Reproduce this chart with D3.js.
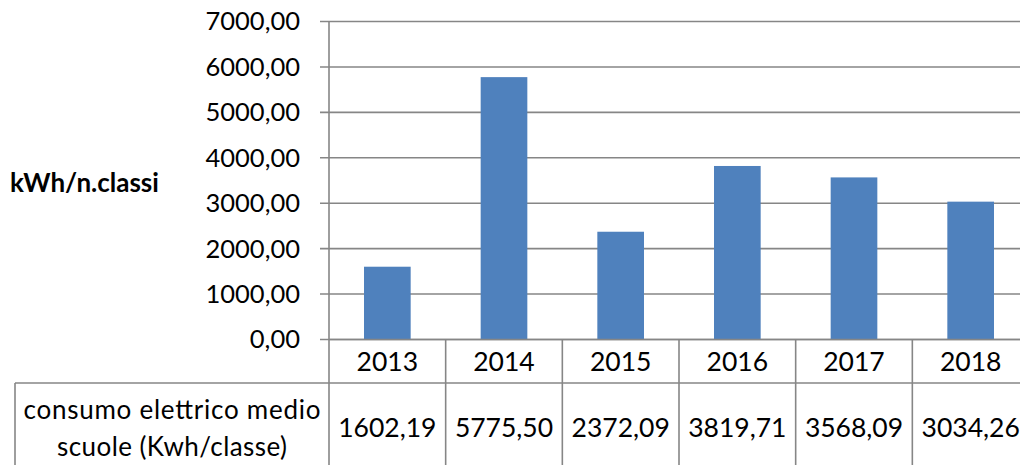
<!DOCTYPE html>
<html><head><meta charset="utf-8">
<script src="https://cdn.jsdelivr.net/npm/d3@7"></script>
<style>html,body{margin:0;padding:0;background:#fff;}svg{display:block;}</style>
</head><body>
<script>
const years = ["2013","2014","2015","2016","2017","2018"];
const values = [1602.19, 5775.50, 2372.09, 3819.71, 3568.09, 3034.26];
const yTicks = [0,1000,2000,3000,4000,5000,6000,7000];
const seriesLabel = ["consumo elettrico medio","scuole (Kwh/classe)"];
const yTitle = "kWh/n.classi";

const W = 1020, H = 465;
const FONT = "Lato, 'Open Sans', sans-serif";
const GRID = "#868686";
const svg = d3.select("body").append("svg").attr("width", W).attr("height", H);

const x0 = 329, x1 = 1029, yTop = 21.5, yBot = 339.5, row1 = 383, tableLeft = 15;
const x = d3.scaleBand().domain(years).range([x0, x1]).padding(0);
const y = d3.scaleLinear().domain([0, 7000]).range([yBot, yTop]);
const fmt = v => d3.format(".2f")(v).replace(".", ",");

// gridlines
svg.append("g").selectAll("line").data(yTicks).join("line")
  .attr("x1", x0 - 9).attr("x2", W).attr("y1", d => y(d)).attr("y2", d => y(d))
  .attr("stroke", GRID).attr("stroke-width", 1.6);

// bars
const bw = x.bandwidth() * 0.4;
svg.append("g").selectAll("rect").data(years).join("rect")
  .attr("x", (d) => x(d) + (x.bandwidth() - bw) / 2)
  .attr("width", bw)
  .attr("y", (d, i) => y(values[i]))
  .attr("height", (d, i) => y(0) - y(values[i]))
  .attr("fill", "#4F81BD");

// axis line & table
svg.append("line").attr("x1", x0).attr("x2", x0).attr("y1", yTop).attr("y2", H)
  .attr("stroke", GRID).attr("stroke-width", 1.6);
svg.append("line").attr("x1", x0).attr("x2", W).attr("y1", yBot).attr("y2", yBot)
  .attr("stroke", GRID).attr("stroke-width", 1.6);
svg.append("g").selectAll("line").data(years.slice(1)).join("line")
  .attr("x1", d => x(d)).attr("x2", d => x(d)).attr("y1", yBot).attr("y2", H)
  .attr("stroke", GRID).attr("stroke-width", 1.6);
svg.append("line").attr("x1", tableLeft).attr("x2", W).attr("y1", row1).attr("y2", row1)
  .attr("stroke", GRID).attr("stroke-width", 1.6);
svg.append("line").attr("x1", tableLeft).attr("x2", tableLeft).attr("y1", row1).attr("y2", H)
  .attr("stroke", GRID).attr("stroke-width", 1.6);

// y tick labels
svg.append("g").selectAll("text").data(yTicks).join("text")
  .attr("x", 300).attr("y", d => y(d)).attr("dy", "0.35em")
  .attr("text-anchor", "end").attr("font-family", FONT).attr("font-size", 25.5)
  .attr("fill", "#000").text(d => fmt(d));

// y title
svg.append("text").attr("x", 10).attr("y", 183).attr("dy", "0.35em")
  .attr("font-family", FONT).attr("font-size", 26).attr("font-weight", "bold")
  .attr("fill", "#000").text(yTitle);

// year labels
svg.append("g").selectAll("text").data(years).join("text")
  .attr("x", d => x(d) + x.bandwidth() / 2).attr("y", 362).attr("dy", "0.35em")
  .attr("text-anchor", "middle").attr("font-family", FONT).attr("font-size", 26.5)
  .attr("fill", "#000").text(d => d);

// value cells
svg.append("g").selectAll("text").data(years).join("text")
  .attr("x", d => x(d) + x.bandwidth() / 2).attr("y", 428).attr("dy", "0.35em")
  .attr("text-anchor", "middle").attr("font-family", FONT).attr("font-size", 26.5)
  .attr("fill", "#000").text((d, i) => fmt(values[i]));

// row label
const labelLens = [297, 230];
svg.append("g").selectAll("text").data(seriesLabel).join("text")
  .attr("x", 172).attr("y", (d, i) => 410 + i * 37).attr("dy", "0.35em")
  .attr("text-anchor", "middle").attr("font-family", FONT).attr("font-size", 26)
  .attr("textLength", (d, i) => labelLens[i]).attr("lengthAdjust", "spacing")
  .attr("fill", "#000").text(d => d);
</script>
</body></html>
